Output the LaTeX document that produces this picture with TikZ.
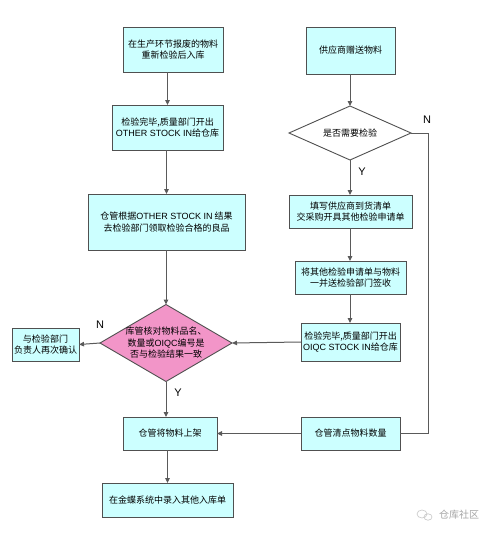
\documentclass[tikz,border=0pt]{standalone}
\usepackage{fontspec}
\newfontfamily\cjk{Noto Sans CJK SC}
\newfontfamily\lat{Liberation Sans}
\usetikzlibrary{shapes.geometric,arrows.meta}
\definecolor{boxfill}{HTML}{CCFFFF}
\definecolor{pinkfill}{HTML}{F295C8}
\definecolor{edgegray}{HTML}{505050}
\definecolor{linegray}{HTML}{5A5A5A}
\tikzset{
  box/.style={draw=edgegray, fill=boxfill, line width=0.9pt, inner sep=0pt, outer sep=0pt, align=center, font=\cjk\fontsize{9}{11.5}\selectfont},
  dia/.style={diamond, draw=edgegray, line width=0.9pt, inner sep=0pt, outer sep=0pt},
  txt/.style={align=center, inner sep=0pt, font=\cjk\fontsize{9}{11.5}\selectfont},
  conn/.style={draw=linegray, line width=1pt},
  arr/.style={conn, -{Triangle[length=5pt,width=4.5pt]}},
  lbl/.style={inner sep=0pt, font=\lat\fontsize{11}{12}\selectfont}
}
\begin{document}
\begin{tikzpicture}[x=1pt,y=-1pt]
\useasboundingbox (0,0) rectangle (500,538);
\fill[white] (0,0) rectangle (500,538);
% left column
\node[box, minimum width=100, minimum height=45] (b1) at (173,49.5) {在生产环节报废的物料\\重新检验后入库};
\node[box, minimum width=111, minimum height=45] (b2) at (167.5,127.5) {检验完毕,质量部门开出\\{\lat OTHER STOCK IN}给仓库};
\node[box, minimum width=157, minimum height=56] (b3) at (166.5,222) {仓管根据{\lat OTHER STOCK IN} 结果\\去检验部门领取检验合格的良品};
\node[dia, fill=pinkfill, minimum width=132, minimum height=77] (d2) at (166,343) {};
\node[txt] (d2t) at (d2) {库管核对物料品名、\\数量或{\lat OIQC}编号是\\否与检验结果一致};
\node[box, minimum width=67, minimum height=33] (bL) at (45.5,344.5) {与检验部门\\负责人再次确认};
\node[box, minimum width=94, minimum height=33] (b4) at (170,433.5) {仓管将物料上架};
\node[box, minimum width=131, minimum height=34] (b5) at (167.5,500) {在金蝶系统中录入其他入库单};
% right column
\node[box, minimum width=89, minimum height=47] (r1) at (350.5,50.5) {供应商赠送物料};
\node[dia, fill=white, minimum width=122, minimum height=54] (d1) at (350,133) {};
\node[txt] (d1t) at (d1) {是否需要检验};
\node[box, minimum width=123, minimum height=33] (r2) at (350.5,211.5) {填写供应商到货清单\\交采购开具其他检验申请单};
\node[box, minimum width=111, minimum height=33] (r3) at (350.5,277.5) {将其他检验申请单与物料\\一并送检验部门签收};
\node[box, minimum width=99, minimum height=38] (r4) at (350.5,342) {检验完毕,质量部门开出\\{\lat OIQC STOCK IN}给仓库};
\node[box, minimum width=99, minimum height=33] (r5) at (350.5,433.5) {仓管清点物料数量};
% connectors
\draw[arr] (b1.south -| b2.north) -- (b2.north);
\draw[arr] (b2.south -| b3.north) -- (b3.north);
\draw[arr] (b3.south -| d2.north) -- (d2.north);
\draw[arr] (d2.south) -- (d2.south |- b4.north);
\draw[arr] (b4.south -| b5.north) -- (b5.north);
\draw[arr] (d2.west) -- (bL.east);
\draw[arr] (r4.west) -- (d2.east);
\draw[arr] (r5.west) -- (b4.east);
\draw[arr] (r1.south -| d1.north) -- (d1.north);
\draw[arr] (d1.south) -- (d1.south |- r2.north);
\draw[arr] (r2.south -| d1.south) -- (r3.north -| d1.south);
\draw[arr] (r3.south -| d1.south) -- (r4.north -| d1.south);
\coordinate (nc) at (428,133);
\draw[conn] (d1.east) -- (nc) -- (nc |- r5.east) -- (r5.east);
% labels
\node[lbl] (n1) at (427,120) {N};
\node[lbl] (y1) at (362,172) {Y};
\node[lbl] (n2) at (100,325) {N};
\node[lbl] (y2) at (178,393) {Y};
% watermark
\node[inner sep=0pt, text=gray!70, font=\cjk\fontsize{10}{12}\selectfont] (wm) at (459,515) {仓库社区};
\draw[gray!45, line width=0.6pt] (422,514) ellipse (5 and 4);
\draw[gray!45, line width=0.6pt] (428,517) ellipse (4 and 3.2);
\end{tikzpicture}
\end{document}
